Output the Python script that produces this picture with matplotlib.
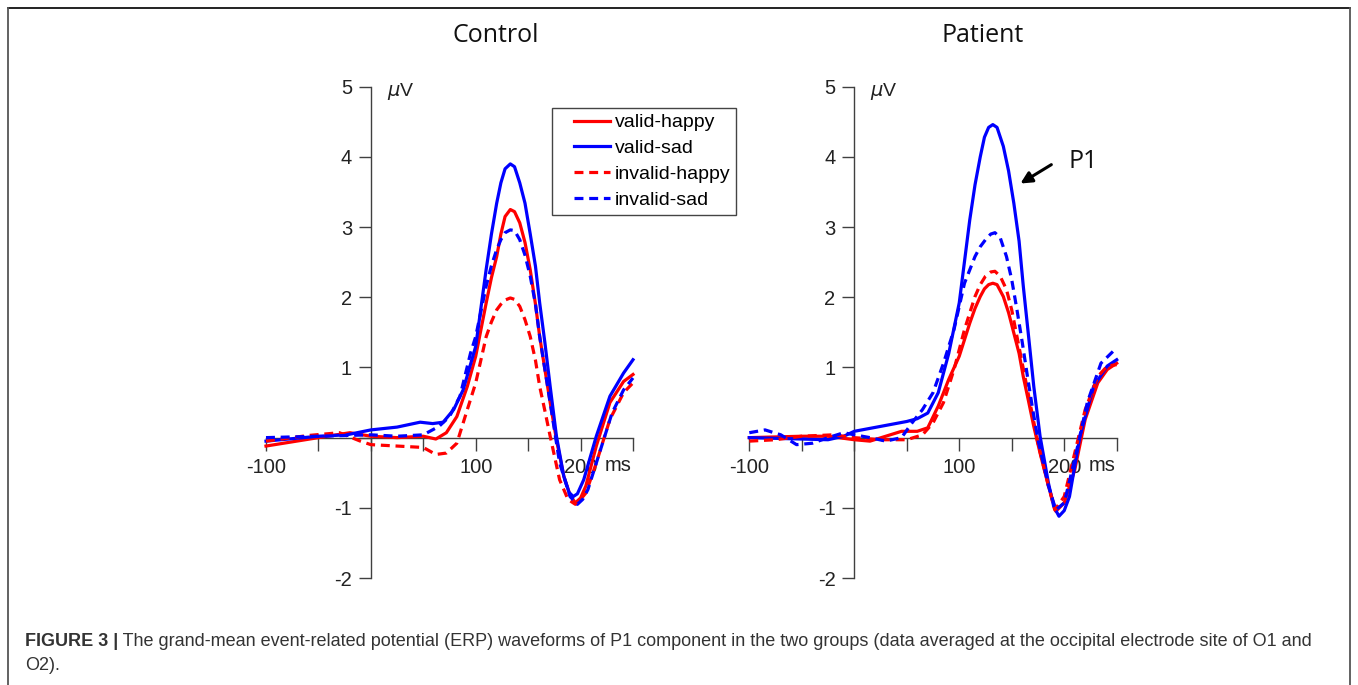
import numpy as np
import matplotlib
matplotlib.use("Agg")
import matplotlib.pyplot as plt
from matplotlib.lines import Line2D
from matplotlib.legend_handler import HandlerLine2D

# ---- data (time in ms, amplitude in uV) ----
ctrl_vh_t = [-100, -50, -20, 0, 25, 50, 62, 72, 82, 92, 100, 110, 115, 120, 124, 128, 133, 137, 142, 147, 152, 157, 161, 166, 171, 177, 184, 190, 195, 200, 205, 215, 228, 241, 250]
ctrl_vh_v = [-0.12, 0.0, 0.07, 0.02, 0.0, 0.02, -0.02, 0.07, 0.3, 0.73, 1.16, 1.92, 2.28, 2.58, 2.9, 3.15, 3.25, 3.22, 3.06, 2.78, 2.39, 1.9, 1.44, 0.97, 0.5, -0.03, -0.55, -0.82, -0.93, -0.86, -0.69, -0.12, 0.5, 0.8, 0.9]

ctrl_vs_t = [-100, -50, -23, 0, 25, 47, 59, 69, 79, 88, 100, 110, 115, 120, 124, 128, 133, 137, 142, 147, 152, 157, 161, 166, 171, 177, 184, 189, 193, 197, 203, 215, 228, 241, 250]
ctrl_vs_v = [-0.05, 0.02, 0.04, 0.11, 0.15, 0.22, 0.2, 0.22, 0.4, 0.68, 1.3, 2.4, 2.9, 3.34, 3.63, 3.83, 3.9, 3.86, 3.63, 3.34, 2.9, 2.44, 1.92, 1.35, 0.73, 0.02, -0.55, -0.78, -0.84, -0.8, -0.6, 0.02, 0.59, 0.92, 1.11]

ctrl_ih_t = [-100, -60, -30, -10, 0, 25, 50, 62, 72, 82, 92, 100, 110, 115, 120, 124, 128, 133, 137, 142, 147, 152, 157, 161, 166, 171, 180, 188, 195, 200, 205, 215, 228, 241, 250]
ctrl_ih_v = [-0.05, 0.03, 0.07, -0.05, -0.1, -0.12, -0.14, -0.24, -0.22, -0.08, 0.4, 0.78, 1.44, 1.65, 1.82, 1.9, 1.96, 1.99, 1.97, 1.87, 1.68, 1.44, 1.1, 0.73, 0.38, 0.02, -0.6, -0.88, -0.95, -0.88, -0.79, -0.36, 0.26, 0.64, 0.78]

ctrl_is_t = [-100, -50, 0, 25, 50, 65, 75, 85, 95, 100, 110, 115, 120, 124, 128, 133, 137, 142, 147, 152, 157, 161, 166, 171, 180, 190, 197, 202, 207, 218, 230, 241, 250]
ctrl_is_v = [0.0, 0.02, 0.04, 0.02, 0.04, 0.16, 0.3, 0.59, 1.2, 1.44, 2.16, 2.45, 2.68, 2.82, 2.92, 2.96, 2.95, 2.82, 2.6, 2.3, 1.9, 1.44, 0.97, 0.5, -0.36, -0.84, -0.95, -0.88, -0.74, -0.22, 0.35, 0.68, 0.85]

pat_vh_t = [-100, -50, -25, 0, 15, 30, 45, 60, 70, 80, 90, 100, 110, 115, 120, 124, 128, 132, 136, 142, 147, 152, 157, 161, 166, 171, 177, 185, 192, 200, 210, 220, 232, 241, 250]
pat_vh_v = [0.0, 0.02, 0.02, -0.03, -0.05, 0.02, 0.09, 0.09, 0.14, 0.45, 0.83, 1.16, 1.63, 1.84, 2.01, 2.12, 2.18, 2.2, 2.18, 2.01, 1.78, 1.49, 1.2, 0.87, 0.52, 0.16, -0.22, -0.69, -1.05, -0.93, -0.46, 0.26, 0.78, 0.97, 1.06]

pat_vs_t = [-100, -50, -25, -10, 0, 25, 50, 60, 70, 80, 90, 100, 110, 115, 120, 124, 128, 132, 136, 142, 147, 152, 157, 161, 166, 171, 177, 185, 190, 195, 200, 205, 215, 228, 241, 250]
pat_vs_v = [0.0, -0.02, -0.03, 0.02, 0.09, 0.16, 0.23, 0.27, 0.35, 0.64, 1.2, 1.92, 3.1, 3.6, 4.0, 4.28, 4.42, 4.46, 4.42, 4.15, 3.8, 3.34, 2.8, 2.16, 1.45, 0.73, 0.02, -0.65, -0.98, -1.12, -1.04, -0.84, 0.02, 0.73, 1.02, 1.11]

pat_ih_t = [-100, -75, -50, -20, 0, 25, 50, 65, 75, 85, 95, 105, 115, 120, 125, 130, 134, 139, 145, 150, 155, 160, 165, 170, 175, 185, 191, 200, 210, 220, 232, 241, 250]
pat_ih_v = [-0.05, -0.03, 0.02, 0.04, 0.0, -0.03, -0.03, 0.04, 0.21, 0.5, 0.97, 1.54, 2.01, 2.18, 2.3, 2.36, 2.37, 2.3, 2.11, 1.82, 1.44, 1.06, 0.68, 0.3, -0.08, -0.69, -1.03, -0.84, -0.22, 0.4, 0.87, 1.02, 1.04]

pat_is_t = [-100, -85, -70, -55, -40, -25, -10, 0, 15, 30, 45, 55, 65, 75, 85, 95, 105, 115, 120, 125, 130, 134, 139, 145, 150, 155, 160, 165, 170, 175, 185, 192, 200, 210, 222, 235, 250]
pat_is_v = [0.07, 0.11, 0.04, -0.1, -0.08, 0.0, 0.07, 0.04, 0.0, -0.05, 0.0, 0.21, 0.4, 0.64, 1.06, 1.54, 2.2, 2.58, 2.72, 2.82, 2.9, 2.92, 2.85, 2.58, 2.25, 1.82, 1.36, 0.87, 0.4, -0.03, -0.69, -1.03, -0.93, -0.31, 0.5, 1.06, 1.28]

labels = ["valid-happy", "valid-sad", "invalid-happy", "invalid-sad"]
x_ticks = [-100, -50, 0, 50, 100, 150, 200, 250]
x_ticklabels = ["-100", "", "", "", "100", "", "200", ""]
y_ticks = [-2, -1, 0, 1, 2, 3, 4, 5]
y_ticklabels = ["-2", "-1", "", "1", "2", "3", "4", "5"]

W, H = 1358, 685
fig = plt.figure(figsize=(W / 100, H / 100), dpi=100)

axis_col = "#404040"
txt_col = "#222222"
lw = 2.3
dash = (2.8, 1.8)


class ShiftedLine(HandlerLine2D):
    # legend line starts a bit right of the box edge, like the original
    def get_xdata(self, legend, xdescent, ydescent, width, height, fontsize):
        x0 = -xdescent + 0.82 * fontsize
        x1 = -xdescent + width
        return np.array([x0, x1]), np.array([0.5 * (x0 + x1)])


def setup_axes(ax):
    ax.set_xlim(-100, 250)
    ax.set_ylim(-2, 5)
    for s in ["top", "right"]:
        ax.spines[s].set_visible(False)
    ax.spines["left"].set_position(("data", 0))
    ax.spines["bottom"].set_position(("data", 0))
    for s in ["left", "bottom"]:
        ax.spines[s].set_color(axis_col)
        ax.spines[s].set_linewidth(1.0)
        ax.spines[s].set_zorder(1)
    ax.set_xticks(x_ticks)
    ax.set_xticklabels(x_ticklabels)
    ax.set_yticks(y_ticks)
    ax.set_yticklabels(y_ticklabels)
    ax.tick_params(axis="x", direction="out", length=9.4, width=1.0, color=axis_col,
                   labelsize=14.5, labelcolor=txt_col, pad=5)
    ax.tick_params(axis="y", direction="out", length=8.6, width=1.0, color=axis_col,
                   labelsize=14.5, labelcolor=txt_col, pad=5)
    for lab in ax.get_xticklabels() + ax.get_yticklabels():
        lab.set_fontfamily("Liberation Sans")
    ax.text(223, -0.39, "ms", fontsize=14.5, family="Liberation Sans", color=txt_col,
            ha="left", va="center")
    ax.text(15, 4.93, r"$\mu$V", fontsize=14, family="Liberation Sans", color=txt_col,
            ha="left", va="center")
    ax.patch.set_alpha(0)


def draw(ax, series):
    styles = [("red", "-"), ("blue", "-"), ("red", "--"), ("blue", "--")]
    handles = []
    for (t, v), (c, ls), lab in zip(series, styles, labels):
        ln, = ax.plot(t, v, color=c, lw=lw, ls=ls, label=lab, clip_on=False, zorder=3,
                      solid_joinstyle="round", dash_joinstyle="round")
        if ls == "--":
            ln.set_dashes(dash)
        handles.append(ln)
    return handles


ax1 = fig.add_axes([266 / W, 1 - 578 / H, 367 / W, 491.3 / H])
ax2 = fig.add_axes([749.3 / W, 1 - 578 / H, 367.4 / W, 491.3 / H])
setup_axes(ax1)
setup_axes(ax2)

h = draw(ax1, [(ctrl_vh_t, ctrl_vh_v), (ctrl_vs_t, ctrl_vs_v),
               (ctrl_ih_t, ctrl_ih_v), (ctrl_is_t, ctrl_is_v)])
draw(ax2, [(pat_vh_t, pat_vh_v), (pat_vs_t, pat_vs_v),
           (pat_ih_t, pat_ih_v), (pat_is_t, pat_is_v)])

leg = fig.legend(handles=h, loc="upper left", bbox_to_anchor=(552 / W, 1 - 108 / H),
                 frameon=True, fancybox=False, framealpha=1, edgecolor="#444444",
                 prop={"family": "Liberation Sans", "size": 14}, handlelength=2.68,
                 handletextpad=0.25, labelspacing=0.42, borderpad=0.3, borderaxespad=0,
                 handler_map={Line2D: ShiftedLine()})
leg.get_frame().set_linewidth(1.0)

# P1 arrow in patient panel
ax2.annotate("", xy=(156, 3.6), xytext=(190, 3.91),
             arrowprops=dict(arrowstyle="-|>", color="black", lw=2.2, mutation_scale=17))
ax2.text(204, 3.93, "P1", fontsize=18, family="Open Sans", color="#111111",
         ha="left", va="center")

# titles
fig.text(496 / W, 1 - 36 / H, "Control", fontsize=18, family="Open Sans",
         color="#111111", ha="center", va="center")
fig.text(983 / W, 1 - 36 / H, "Patient", fontsize=18, family="Open Sans",
         color="#111111", ha="center", va="center")

# caption
cap_col = "#333333"
cap_size = 13
bold = fig.text(25 / W, 1 - 641 / H, "FIGURE 3 |", fontsize=cap_size, family="Liberation Sans",
                weight="bold", color=cap_col, ha="left", va="center")
fig.text(0, 0, "", fontsize=cap_size)
plt.annotate(" The grand-mean event-related potential (ERP) waveforms of P1 component in the "
             "two groups (data averaged at the occipital electrode site of O1 and",
             xy=(1, 0.5), xycoords=bold, ha="left", va="center", fontsize=cap_size,
             family="Liberation Sans", color=cap_col, annotation_clip=False)
fig.text(25 / W, 1 - 665 / H, "O2).", fontsize=cap_size, family="Liberation Sans",
         color=cap_col, ha="left", va="center")

# page frame
fig.add_artist(Line2D([8 / W, 1350 / W], [1 - 8 / H, 1 - 8 / H], color="#111111", lw=1.3))
fig.add_artist(Line2D([8 / W, 8 / W], [0, 1 - 8 / H], color="#555555", lw=1.3))
fig.add_artist(Line2D([1350 / W, 1350 / W], [0, 1 - 8 / H], color="#555555", lw=1.3))

fig.savefig("out.png", dpi=100)
